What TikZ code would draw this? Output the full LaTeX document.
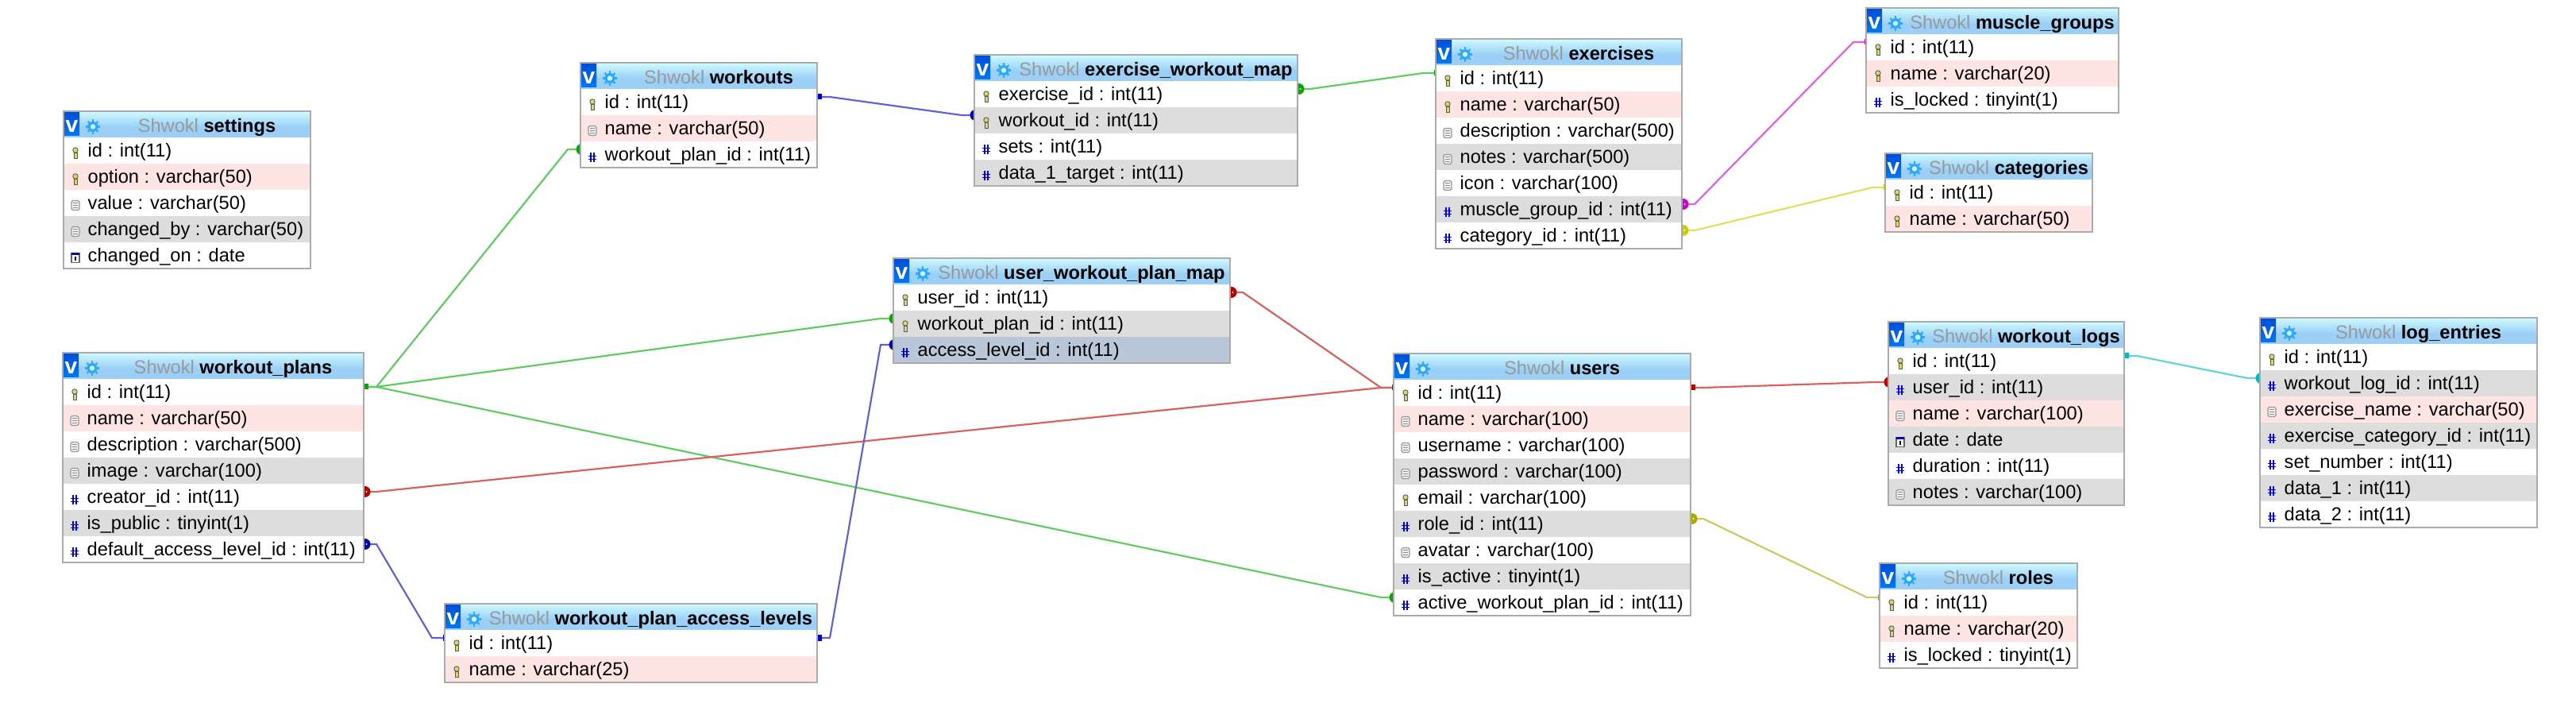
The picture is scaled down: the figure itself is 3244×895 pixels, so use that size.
\documentclass[tikz,border=0pt]{standalone}
\usepackage{fontspec}
\setmainfont{Liberation Sans}
\usetikzlibrary{backgrounds,calc}

\definecolor{rowpink}{HTML}{FFE4E4}
\definecolor{rowgray}{HTML}{DDDDDD}
\definecolor{rowblue}{HTML}{BAC7D9}
\definecolor{hdrtop}{HTML}{CFFAFF}
\definecolor{hdrbot}{HTML}{9BCFF6}
\definecolor{titlegray}{HTML}{999999}
\definecolor{gearblue}{HTML}{2FA8FB}
\definecolor{vbtntop}{HTML}{0050D8}
\definecolor{vbtnbot}{HTML}{0078F5}
\definecolor{keyfill}{HTML}{D8D868}
\definecolor{fkgreen}{HTML}{00AA00}
\definecolor{fkblue}{HTML}{0000BB}
\definecolor{fkred}{HTML}{BB0000}
\definecolor{fkmagenta}{HTML}{CC00CC}
\definecolor{fkyellow}{HTML}{CCCC00}
\definecolor{fkolive}{HTML}{AAAA00}
\definecolor{fkcyan}{HTML}{00BBBB}

\tikzset{
    rowbox/.style={anchor=north west, inner sep=0pt, outer sep=0pt, minimum height=0.33cm},
    rowtext/.style={anchor=base west, inner sep=0pt, font=\fontsize{6.72pt}{8pt}\selectfont},
    tbltitle/.style={anchor=base, inner sep=0pt, font=\fontsize{6.72pt}{8pt}\selectfont},
    tblbox/.style={anchor=north west, draw=black!33, line width=0.55pt, inner sep=0pt, outer sep=0pt},
    vbutton/.style={anchor=base, inner sep=0pt, text=white, font=\fontsize{8pt}{8pt}\selectfont\bfseries},
    fkline/.style={line width=0.62pt, #1!62!white}
}

% row icons, drawn round the origin
\newcommand{\iconk}{
    \fill[keyfill, draw=black!65, line width=0.25pt] (0,-3.5) circle (3.2);
    \fill[keyfill, draw=black!65, line width=0.25pt] (-1.6,-0.5) rectangle (2,6.5);
}
\newcommand{\icont}{
    \draw[black!40, fill=black!6, line width=0.35pt, rounded corners=0.5pt] (-5,-6) rectangle (5,6);
    \foreach \ly in {-3,0,3} {
        \draw[black!45, line width=0.25pt] (-3,\ly) -- (3,\ly);
    }
}
\newcommand{\iconh}{
    \foreach \lx in {-2,2} {
        \draw[blue!90!black, line width=0.5pt] (\lx,-5) -- (\lx,7);
    }
    \foreach \ly in {-1,3} {
        \draw[blue!90!black, line width=0.5pt] (-5,\ly) -- (5,\ly);
    }
}
\newcommand{\icond}{
    \draw[black!60, fill=white, line width=0.3pt] (-5,-6) rectangle (5,6);
    \fill[blue!75!black] (-5,-6) rectangle (5,-3);
    \draw[black, line width=0.3pt] (0,-1) -- (0,4);
}

% #1 name, #2 x, #3 y, #4 width, #5 title, #6 rows (icon/colour/text)
\newcommand{\dbtable}[6]{
    \fill[hdrbot] (#2,#3) rectangle (#2+#4,#3+33);
    \shade[top color=hdrtop, bottom color=hdrbot] (#2,#3) rectangle (#2+#4,#3+20);
    \shade[top color=vbtntop, bottom color=vbtnbot] (#2+1,#3+2) rectangle (#2+20,#3+31);
    \node[vbutton] (#1-v) at (#2+10.5,#3+27) {v};
    \fill[gearblue] (#2+37,#3+19.5) circle (6.5);
    \foreach \ang in {0,45,...,315} {
        \draw[gearblue, line width=0.6pt] ($(#2+37,#3+19.5)$) ++(\ang:5) -- ++(\ang:4.2);
    }
    \fill[hdrtop] (#2+37,#3+19.5) circle (3.2);
    \node[tbltitle] (#1-title) at ({#2+(#4+50)/2},#3+26.5) {\textcolor{titlegray}{Shwokl} \textbf{#5}};
    \foreach \kind/\bg/\txt [count=\i] in {#6} {
        \pgfmathsetmacro{\ry}{#3+33*\i}
        \node[rowbox, fill=\bg, minimum width={#4*0.01cm}] (#1-\i) at (#2,\ry) {};
        \node[rowtext] (#1-\i-t) at (#2+30,\ry+25) {\txt};
        \begin{scope}[shift={(#2+15,\ry+19.5)}]
            \csname icon\kind\endcsname
        \end{scope}
        \coordinate (#1-\i-l) at ([yshift=0.065cm]#1-\i.west);
        \coordinate (#1-\i-ll) at ([xshift=-0.16cm]#1-\i-l);
        \coordinate (#1-\i-r) at ([yshift=0.065cm]#1-\i.east);
        \coordinate (#1-\i-rr) at ([xshift=0.16cm]#1-\i-r);
        \xdef\nrows{\i}
    }
    \node[tblbox, minimum width={#4*0.01cm}, minimum height={(\nrows+1)*0.33cm}] (#1) at (#2,#3) {};
}

% #1 colour, #2 row and #3 side of the square end, #4 row and #5 side of the round end
\newcommand{\fklink}[5]{
    \draw[fkline=#1] (#2-#3) -- (#2-#3#3) -- (#4-#5#5) -- (#4-#5);
    \fill[#1] ([xshift=-0.025cm,yshift=-0.035cm]#2-#3) rectangle ([xshift=0.06cm,yshift=0.035cm]#2-#3);
    \fill[#1] ([xshift=0.015cm]#4-#5) circle (7);
    \fill[white] ([xshift=0.035cm]#4-#5) circle (1.2);
}

\begin{document}
\begin{tikzpicture}[x=0.01cm, y=-0.01cm]
    \useasboundingbox (0,0) rectangle (3244,895);

    % --- left column ---
    \dbtable{settings}{80}{140}{311}{settings}{
        k/white/id : int(11), k/rowpink/option : varchar(50), t/white/value : varchar(50),
        t/rowgray/changed\_by : varchar(50), d/white/changed\_on : date}
    \dbtable{workout_plans}{79}{444}{379}{workout\_plans}{
        k/white/id : int(11), t/rowpink/name : varchar(50), t/white/description : varchar(500),
        t/rowgray/image : varchar(100), h/white/creator\_id : int(11), h/rowgray/is\_public : tinyint(1),
        h/white/default\_access\_level\_id : int(11)}

    % --- middle ---
    \dbtable{workouts}{731}{79}{298}{workouts}{
        k/white/id : int(11), t/rowpink/name : varchar(50), h/white/workout\_plan\_id : int(11)}
    \dbtable{access_levels}{560}{760}{469}{workout\_plan\_access\_levels}{
        k/white/id : int(11), k/rowpink/name : varchar(25)}
    \dbtable{exercise_map}{1227}{69}{407}{exercise\_workout\_map}{
        k/white/exercise\_id : int(11), k/rowgray/workout\_id : int(11), h/white/sets : int(11),
        h/rowgray/data\_1\_target : int(11)}
    \dbtable{user_map}{1125}{325}{424}{user\_workout\_plan\_map}{
        k/white/user\_id : int(11), k/rowgray/workout\_plan\_id : int(11), h/rowblue/access\_level\_id : int(11)}

    % --- exercises and users ---
    \dbtable{exercises}{1808}{49}{310}{exercises}{
        k/white/id : int(11), k/rowpink/name : varchar(50), t/white/description : varchar(500),
        t/rowgray/notes : varchar(500), t/white/icon : varchar(100), h/rowgray/muscle\_group\_id : int(11),
        h/white/category\_id : int(11)}
    \dbtable{users}{1755}{445}{374}{users}{
        k/white/id : int(11), t/rowpink/name : varchar(100), t/white/username : varchar(100),
        t/rowgray/password : varchar(100), k/white/email : varchar(100), h/rowgray/role\_id : int(11),
        t/white/avatar : varchar(100), h/rowgray/is\_active : tinyint(1),
        h/white/active\_workout\_plan\_id : int(11)}

    % --- right column ---
    \dbtable{muscle_groups}{2350}{10}{318}{muscle\_groups}{
        k/white/id : int(11), k/rowpink/name : varchar(20), h/white/is\_locked : tinyint(1)}
    \dbtable{categories}{2374}{193}{261}{categories}{
        k/white/id : int(11), k/rowpink/name : varchar(50)}
    \dbtable{workout_logs}{2378}{405}{297}{workout\_logs}{
        k/white/id : int(11), h/rowgray/user\_id : int(11), t/rowpink/name : varchar(100),
        d/rowgray/date : date, h/white/duration : int(11), t/rowgray/notes : varchar(100)}
    \dbtable{log_entries}{2846}{400}{349}{log\_entries}{
        k/white/id : int(11), h/rowgray/workout\_log\_id : int(11), t/rowpink/exercise\_name : varchar(50),
        h/rowgray/exercise\_category\_id : int(11), h/white/set\_number : int(11), h/rowgray/data\_1 : int(11),
        h/white/data\_2 : int(11)}
    \dbtable{roles}{2367}{709}{249}{roles}{
        k/white/id : int(11), k/rowpink/name : varchar(20), h/white/is\_locked : tinyint(1)}

    % --- relations, under the tables ---
    \begin{scope}[on background layer]
        \fill[white] (0,0) rectangle (3244,895);
        \fklink{fkgreen}{workout_plans-1}{r}{workouts-3}{l}
        \fklink{fkgreen}{workout_plans-1}{r}{user_map-2}{l}
        \fklink{fkgreen}{workout_plans-1}{r}{users-9}{l}
        \fklink{fkblue}{workouts-1}{r}{exercise_map-2}{l}
        \fklink{fkgreen}{exercises-1}{l}{exercise_map-1}{r}
        \fklink{fkmagenta}{muscle_groups-1}{l}{exercises-6}{r}
        \fklink{fkyellow}{categories-1}{l}{exercises-7}{r}
        \fklink{fkred}{users-1}{l}{user_map-1}{r}
        \fklink{fkred}{users-1}{l}{workout_plans-5}{r}
        \fklink{fkred}{users-1}{r}{workout_logs-2}{l}
        \fklink{fkblue}{access_levels-1}{l}{workout_plans-7}{r}
        \fklink{fkblue}{access_levels-1}{r}{user_map-3}{l}
        \fklink{fkcyan}{workout_logs-1}{r}{log_entries-2}{l}
        \fklink{fkolive}{roles-1}{l}{users-6}{r}
    \end{scope}
\end{tikzpicture}
\end{document}
